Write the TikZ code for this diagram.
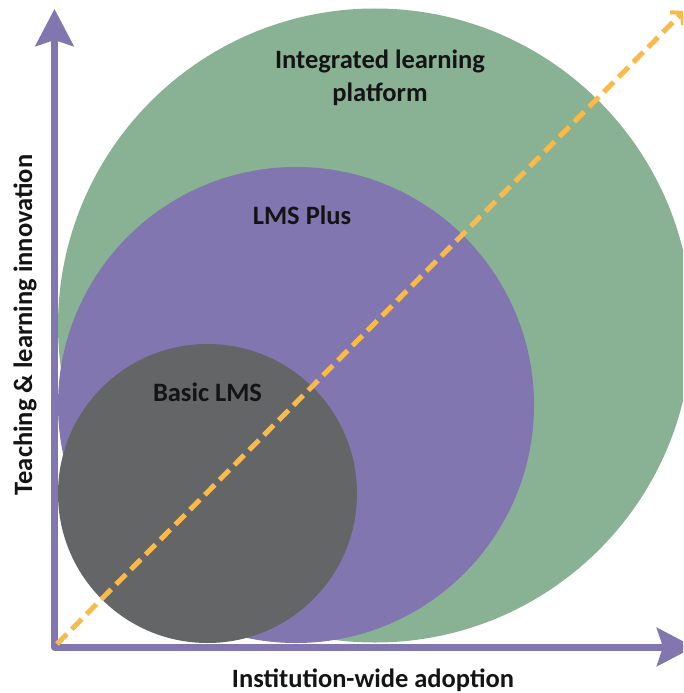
\documentclass[tikz,border=0pt]{standalone}
\usepackage{fontspec}
\setmainfont{Carlito}
\usetikzlibrary{arrows.meta}
\definecolor{cgreen}{RGB}{137,177,148}
\definecolor{cpurple}{RGB}{129,118,176}
\definecolor{cgray}{RGB}{100,101,102}
\definecolor{corange}{RGB}{249,186,72}
\definecolor{ctext}{RGB}{20,20,20}
\tikzset{
  disc/.style={circle, inner sep=0pt, outer sep=0pt},
  lbl/.style={text=ctext, font=\fontsize{26.5}{33}\selectfont\bfseries, align=center, inner sep=0pt},
  axis/.style={cpurple, line width=7pt, line join=round,
    {Stealth[length=37pt,width=38pt,inset=6pt]}-{Stealth[length=37pt,width=38pt,inset=6pt]}},
  trend/.style={corange, line width=5pt, dash pattern=on 14pt off 7pt,
    -{Straight Barb[length=8pt,width=18pt,line width=4pt]}}
}
\begin{document}
\begin{tikzpicture}[x=1pt,y=-1pt]
\clip (0,0) rectangle (683,693);
\fill[white] (0,0) rectangle (683,693);
% circles
\node[disc, fill=cgreen, minimum size=634pt] (green) at (375,325.5) {};
\node[disc, fill=cpurple, minimum size=476pt] (purple) at (296,405) {};
\node[disc, fill=cgray, minimum size=299pt] (gray) at (207.5,493.5) {};
% axes
\coordinate (ytip) at (54.5,9);
\coordinate (origin) at (54.5,647);
\coordinate (xtip) at (694,647);
\draw[axis] (ytip) -- (origin) -- (xtip);
% diagonal trend
\coordinate (dstart) at (57,644);
\coordinate (dtip) at (684,11);
\draw[trend] (dstart) -- (dtip);
% labels
\node[lbl] (tint) at (380,78) {Integrated learning\\platform};
\node[lbl] (tplus) at (302,215) {LMS Plus};
\node[lbl] (tbasic) at (207.5,392) {Basic LMS};
\node[lbl, rotate=90] (tylab) at (25,325) {Teaching \& learning innovation};
\node[lbl] (txlab) at (373,680) {Institution-wide adoption};
\end{tikzpicture}
\end{document}
